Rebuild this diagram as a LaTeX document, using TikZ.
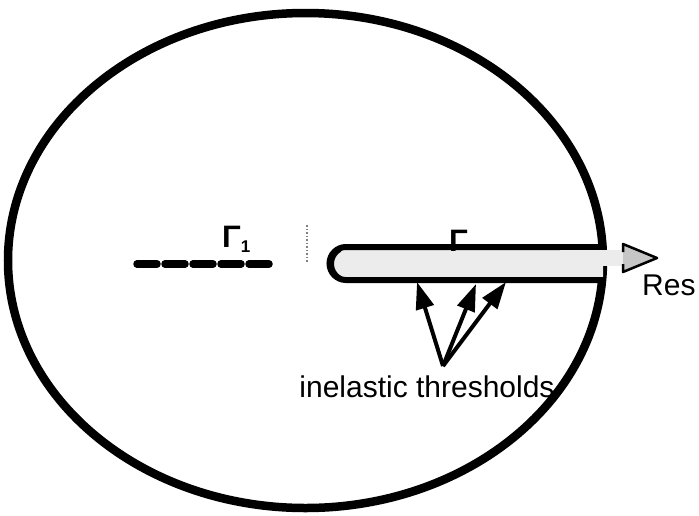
\documentclass[tikz,border=0pt]{standalone}
\usepackage{fontspec}
\setmainfont{Liberation Sans}
\usetikzlibrary{arrows.meta,shapes.geometric}
\tikzset{
  lbl/.style={inner sep=0pt, font=\fontsize{30}{32}\selectfont},
  glbl/.style={inner sep=0pt, font=\bfseries\fontsize{31}{32}\selectfont},
  thr/.style={line width=4pt, -{Triangle[length=27pt,width=18pt]}},
  cutline/.style={line width=6pt, line cap=round},
}
\begin{document}
\begin{tikzpicture}[x=1pt,y=-1pt]
\useasboundingbox (0,0) rectangle (699,515);
% outer ellipse
\draw[line width=8.5pt] (305.5,260.5) ellipse [x radius=297.5, y radius=247.5];
% dotted vertical mark
\draw[line width=1.5pt, dotted, gray] (307,225) -- (307,262);
% Gamma_1 dashed cut
\coordinate (g1a) at (137,264);
\coordinate (g1b) at (270,264);
\draw[line width=7.5pt, line cap=round, dash pattern=on 20pt off 8pt] (g1a) -- (g1b);
\node[glbl, anchor=base west] (g1) at (222,247) {Γ\raisebox{-5pt}{\fontsize{17}{18}\selectfont 1}};
% right cut: hairpin
\fill[gray!15] (603,250) -- (346,250) arc[start angle=270, end angle=90, radius=13.5] -- (603,277) -- cycle;
\draw[cutline] (603,247) -- (346,247) arc[start angle=270, end angle=90, radius=16.5] -- (603,280);
\draw[line width=4pt] (340,250) arc[start angle=240, end angle=120, radius=16];
% arrow out
\coordinate (astart) at (560,258);
\coordinate (aend) at (657,258);
\fill[gray!15] (560,250) rectangle (623,266);
\draw[line width=2.5pt, fill=gray!45, line join=round] (623,264) -- (623,272) -- (aend) -- (623,244) -- (623,252);
\node[lbl, anchor=base west] (res) at (642,295) {Res};
\node[glbl, anchor=base west] (g) at (449,251) {Γ};
% inelastic thresholds
\node[lbl, anchor=base] (txt) at (427,397) {inelastic thresholds};
\coordinate (src) at (443,366);
\coordinate (t1) at (417,282);
\coordinate (t2) at (476,284);
\coordinate (t3) at (506,282);
\draw[thr] (src) -- (t1);
\draw[thr] (src) -- (t2);
\draw[thr] (src) -- (t3);
\end{tikzpicture}
\end{document}
